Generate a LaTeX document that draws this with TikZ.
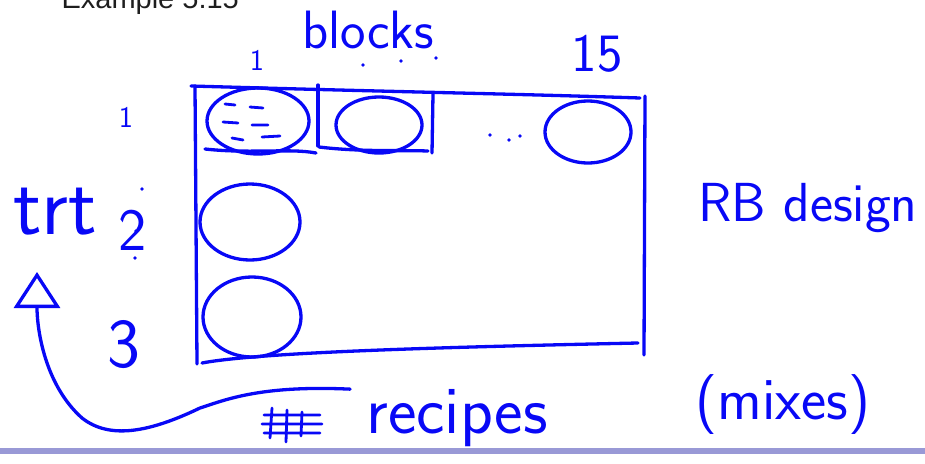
\documentclass[tikz,border=0pt]{standalone}
\usepackage{fontspec}
\usetikzlibrary{positioning,shapes.geometric,arrows.meta}
\newfontfamily\slidefont{Liberation Sans}
\definecolor{InkBlue}{HTML}{0808F6}
\definecolor{BarLilac}{HTML}{9999D6}
\definecolor{SlideGrey}{HTML}{1E1E1E}
\newcommand{\penfont}[1]{\sffamily\fontsize{#1}{#1}\selectfont}

\begin{document}
\begin{tikzpicture}[x=1pt,y=-1pt,>=stealth]
  \tikzstyle{ink}=[draw=InkBlue,line width=3.3pt,line cap=round,line join=round]
  \tikzstyle{cell}=[ellipse,ink,inner sep=0pt]
  \tikzstyle{hand}=[text=InkBlue,inner sep=0pt]
  \useasboundingbox (0,0) rectangle (925,463);
  \fill[BarLilac] (0,448) rectangle (925,454);
  \node[anchor=base west,text=SlideGrey,font=\slidefont\fontsize{29}{32}\selectfont] (title) at (58,9) {Example 5.15};

  \draw[ink] (195,86) -- (197,364);
  \draw[ink] (191,86) .. controls (400,92) and (520,94) .. (640,98);
  \draw[ink] (645,96) -- (644,355);
  \draw[ink] (202,363) .. controls (260,352) and (450,347) .. (638,343);
  \draw[ink] (318,85) -- (318,146);
  \draw[ink] (433,94) -- (432,153);
  \draw[ink] (205,149) .. controls (250,154) and (290,148) .. (316,153);
  \draw[ink] (319,147) .. controls (360,152) and (400,150) .. (428,151);

  \node[cell,minimum width=102pt,minimum height=66pt] (c11) at (258,121) {};
  \node[cell,minimum width=86pt,minimum height=56pt] (c12) at (379,125) {};
  \node[cell,minimum width=86pt,minimum height=62pt] (c1n) at (588,132) {};
  \node[cell,minimum width=100pt,minimum height=76pt] (c21) at (250,222) {};
  \node[cell,minimum width=98pt,minimum height=80pt] (c31) at (252,317) {};
  \draw[ink,line width=2.8pt] (225,104) -- (235,105) (250,107) -- (263,108)
    (223,122) -- (238,123) (252,125) -- (268,125)
    (232,138) -- (243,140) (262,137) -- (280,136);
  \foreach \dx/\dy in {490/135,509/140,520/136,363/65,401/61,436/58,142/189,136/231,135/258}
    \fill[InkBlue] (\dx,\dy) circle (1.8);

  \node[hand,font=\penfont{54}] (blocks) at (368,30) {blocks};
  \node[hand,font=\penfont{30}] (b1) at (257,60) {1};
  \node[hand,font=\penfont{54}] (b15) at (597,54) {15};
  \node[hand,font=\penfont{30}] (t1) at (126,117) {1};
  \node[hand,font=\penfont{84}] (trt) at (55,212) {trt};
  \node[hand,font=\penfont{60}] (t2) at (133,230) {2};
  \node[hand,font=\penfont{70}] (t3) at (124,345) {3};
  \node[hand,font=\penfont{55}] (rb) at (808,208) {RB design};
  \node[hand,font=\penfont{68}] (recipes) at (457,418) {recipes};
  \node[hand,font=\penfont{60}] (mixes) at (783,405) {(mixes)};

  \draw[ink,line width=2.8pt] (264,415) -- (320,415) (262,424) -- (322,424) (264,433) -- (320,433)
    (272,408) -- (270,438) (287,410) -- (286,442) (302,412) -- (301,436);
  \coordinate (tip) at (37,272);
  \draw[ink,-{Triangle[open,length=36pt,width=46pt]}] ([xshift=-16pt]recipes.north west)
    .. controls (260,385) and (225,400) .. (200,408)
    .. controls (150,432) and (110,440) .. (82,418)
    .. controls (45,385) and (37,330) .. (tip);
\end{tikzpicture}
\end{document}
